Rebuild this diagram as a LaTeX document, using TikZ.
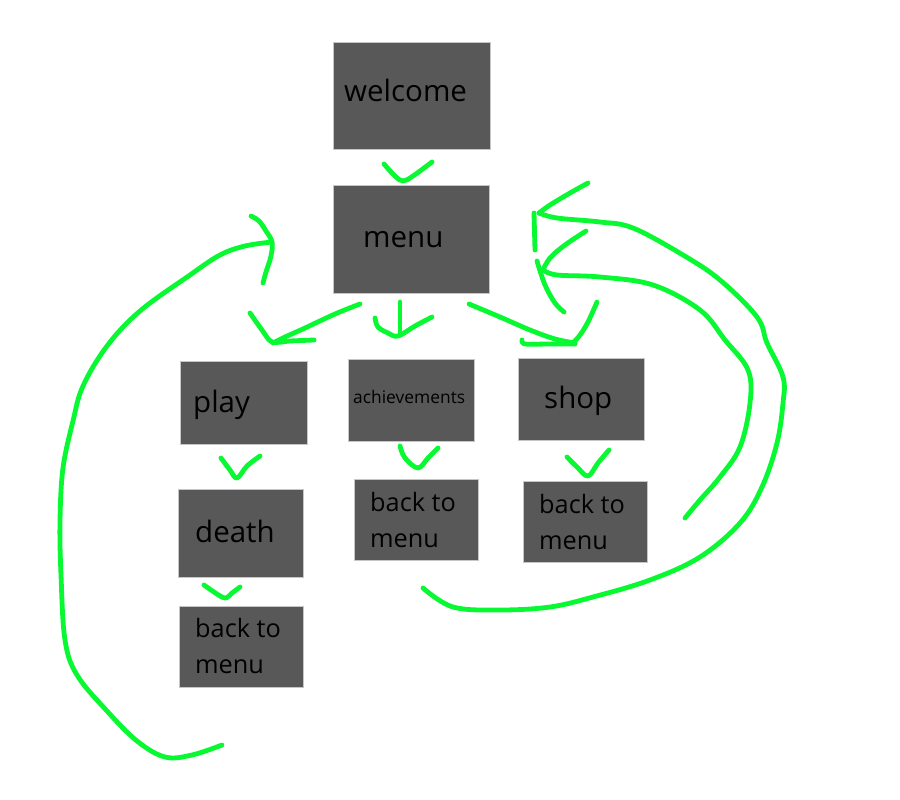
\documentclass[tikz,border=0pt]{standalone}
\usepackage{fontspec}
\setmainfont{Open Sans}
\definecolor{boxgray}{RGB}{88,88,88}
\definecolor{pen}{RGB}{8,248,50}
\begin{document}
\begin{tikzpicture}[x=1pt,y=-1pt,
  box/.style={draw=gray!45, line width=0.8pt, fill=boxgray, inner sep=0pt, outer sep=0pt},
  lbl/.style={anchor=base west, inner sep=0pt, text=black},
  big/.style={lbl, font=\fontsize{29.5}{34}\selectfont},
  mid/.style={lbl, font=\fontsize{25.3}{30}\selectfont},
  tiny/.style={lbl, font=\fontsize{17.4}{20}\selectfont},
  stroke/.style={draw=pen, line width=4.8pt, line cap=round, line join=round}]
\fill[white] (0,0) rectangle (900,800);
\useasboundingbox (0,0) rectangle (900,800);
% boxes
\node[box, minimum width=157pt, minimum height=107pt] (welcome) at (411.5,95.5) {};
\node[box, minimum width=156pt, minimum height=108pt] (menu) at (411,239) {};
\node[box, minimum width=127pt, minimum height=83pt] (play) at (243.5,402.5) {};
\node[box, minimum width=126pt, minimum height=82pt] (ach) at (411,400) {};
\node[box, minimum width=126pt, minimum height=82pt] (shop) at (581,399) {};
\node[box, minimum width=125pt, minimum height=88pt] (death) at (240.5,533) {};
\node[box, minimum width=124pt, minimum height=81pt] (backA) at (416,519.5) {};
\node[box, minimum width=124pt, minimum height=81pt] (backS) at (585,521.5) {};
\node[box, minimum width=124pt, minimum height=81pt] (backD) at (241,646.5) {};
% labels
\node[big] (tw) at (344,102) {welcome};
\node[big] (tm) at (363,247) {menu};
\node[big] (tp) at (193,412) {play};
\node[tiny] (ta) at (353,403) {achievements};
\node[big] (ts) at (544,408) {shop};
\node[big] (td) at (195,542) {death};
\node[mid] (ta1) at (370,511) {back to};
\node[mid] (ta2) at (370,547) {menu};
\node[mid] (ts1) at (539,513) {back to};
\node[mid] (ts2) at (539,549) {menu};
\node[mid] (td1) at (195,637) {back to};
\node[mid] (td2) at (195,673) {menu};
% welcome -> menu
\draw[stroke] plot[smooth, tension=0.6] coordinates {(384,164) (395,176) (403,181) (413,176) (432,162)};
% menu -> play
\draw[stroke] plot[smooth, tension=0.6] coordinates {(360,304) (335,314) (305,328) (285,337) (273,343)};
\draw[stroke] plot[smooth, tension=0.5] coordinates {(250,313) (262,330) (272,342) (290,341) (314,340)};
% menu -> achievements
\draw[stroke] (400,302) -- (400,335);
\draw[stroke] plot[smooth, tension=0.6] coordinates {(375,318) (378,327) (388,333) (398,336) (415,326) (432,317)};
% menu -> shop
\draw[stroke] plot[smooth, tension=0.6] coordinates {(469,304) (500,317) (530,330) (555,339) (575,343)};
\draw[stroke] plot[smooth, tension=0.5] coordinates {(522,340) (525,344) (550,344) (575,344)};
\draw[stroke] plot[smooth, tension=0.6] coordinates {(597,302) (588,322) (580,335) (573,343)};
% play -> death, death -> back
\draw[stroke] plot[smooth, tension=0.6] coordinates {(221,458) (230,470) (237,478) (247,466) (260,456)};
\draw[stroke] plot[smooth, tension=0.6] coordinates {(204,585) (214,592) (225,598) (232,593) (240,587)};
% achievements -> back, shop -> back
\draw[stroke] plot[smooth, tension=0.6] coordinates {(400,446) (405,458) (418,468) (428,458) (438,448)};
\draw[stroke] plot[smooth, tension=0.6] coordinates {(567,457) (577,467) (588,476) (598,463) (609,450)};
% left loop: death back -> menu
\draw[stroke] plot[smooth, tension=0.6] coordinates {(222,745) (192,755) (165,757) (137,741) (107,711) (77,675) (65,640) (61,575) (60,521) (63,468) (73,421) (83,386) (107,346) (140,311) (190,275) (220,255) (245,246) (272,242)};
\draw[stroke] plot[smooth, tension=0.6] coordinates {(251,216) (259,221) (266,231) (272,242) (271,256) (266,272) (263,283)};
% outer right loop: achievements back -> menu
\draw[stroke] plot[smooth, tension=0.6] coordinates {(423,588) (453,607) (500,610) (550,607) (593,597) (650,580) (700,557) (740,523) (762,487) (777,443) (783,403) (783,377) (767,343) (757,317) (720,280) (683,255) (633,228) (600,222) (557,218) (539,213)};
\draw[stroke] plot[smooth, tension=0.6] coordinates {(588,183) (570,193) (550,205) (539,213)};
\draw[stroke] (534,213) -- (535,250);
% inner right loop: shop back -> menu
\draw[stroke] plot[smooth, tension=0.6] coordinates {(685,518) (700,500) (720,477) (740,447) (750,403) (748,370) (725,340) (700,310) (653,285) (600,277) (557,275) (543,270)};
\draw[stroke] plot[smooth, tension=0.6] coordinates {(586,231) (565,245) (550,258) (543,270)};
\draw[stroke] plot[smooth, tension=0.6] coordinates {(537,261) (545,285) (555,303) (564,312)};
\end{tikzpicture}
\end{document}
